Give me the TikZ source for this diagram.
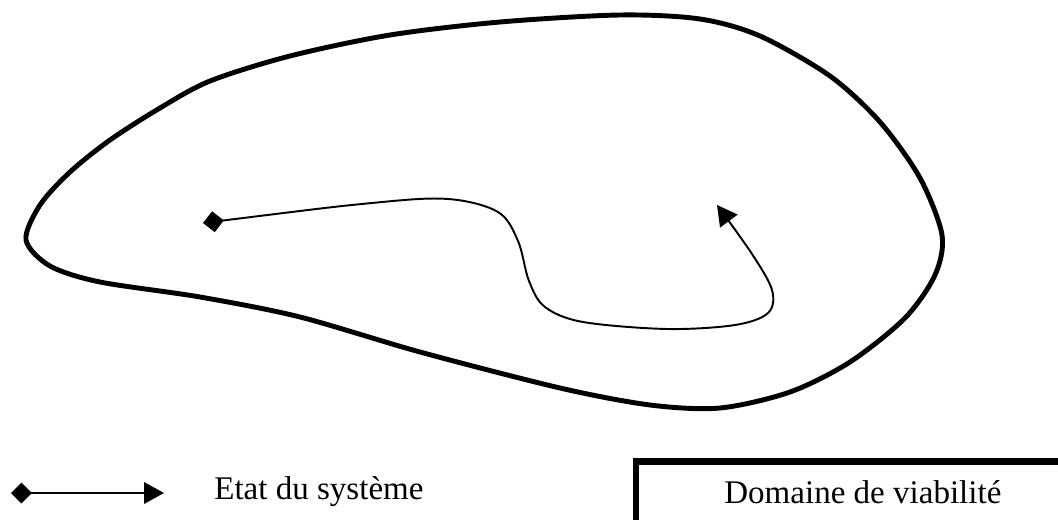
\documentclass[tikz,border=0pt]{standalone}
\usepackage{fontspec}
\setmainfont{Liberation Serif}
\usepackage{tikz}
\usetikzlibrary{arrows.meta}

\tikzset{
  domainline/.style={line width=2.8pt, line join=round},
  trajline/.style={line width=1.1pt,
    {Diamond[length=0.42cm,width=0.42cm]}-{Triangle[length=0.4cm,width=0.43cm]}},
  legendtext/.style={inner sep=0pt, anchor=base west, font=\fontsize{18.8}{22}\selectfont}
}

\begin{document}
\begin{tikzpicture}[x=0.02cm,y=-0.02cm]
\useasboundingbox (0,0) rectangle (1058,520);
\clip (0,0) rectangle (1058,520);
% le domaine
\draw[domainline] plot[smooth cycle, tension=0.5] coordinates {
(26,240) (40,205) (70,172) (110,140) (160,108) (210,81) (290,56)
(390,35) (500,22) (620,15) (700,19) (760,36) (830,76) (880,122)
(920,178) (942,235) (935,275) (905,318) (850,362) (790,392)
(720,408) (650,405) (560,388) (420,352) (300,317) (200,297)
(100,282) (50,266)};
% la trajectoire
\coordinate (depart) at (203,223);
\coordinate (arrivee) at (717,205);
\draw[trajline] plot[smooth, tension=0.55] coordinates {
(depart) (372,203) (448,199) (498,212) (518,241) (529,281)
(545,307) (583,322) (667,329) (735,325) (768,313) (772,290)
(752,254) (arrivee)};
% legende
\coordinate (legdebut) at (11,493);
\coordinate (legfin) at (164,493);
\draw[trajline] (legdebut) -- (legfin);
\node[legendtext] (etat) at (214,499) {Etat du système};
\draw[line width=3.7pt] (636,540) |- (1080,461.5);
\node[legendtext] (domaine) at (724,503) {Domaine de viabilité};
\end{tikzpicture}
\end{document}
